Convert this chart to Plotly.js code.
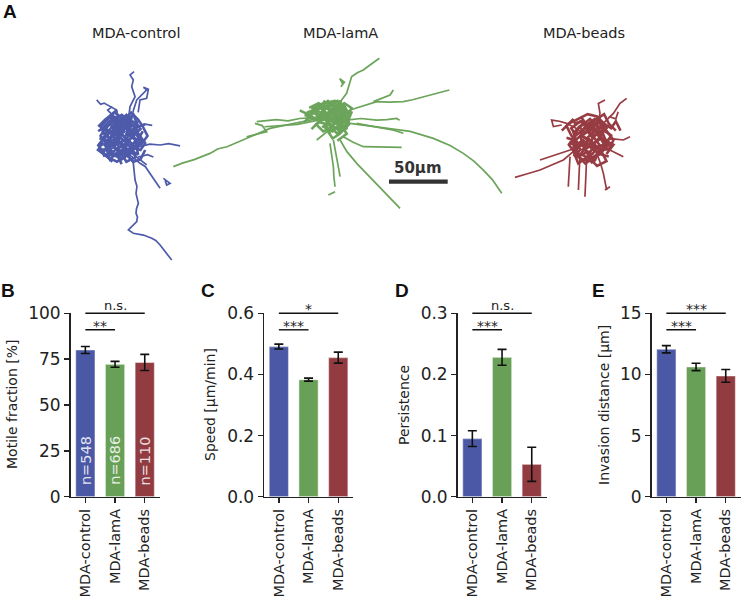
<!DOCTYPE html>
<html><head><meta charset="utf-8">
<script src="https://cdn.plot.ly/plotly-3.0.1.min.js"></script>
<style>html,body{margin:0;padding:0;background:#fff}#chart{width:744px;height:601px}</style>
</head><body><div id="chart"></div>
<script>
// ---------------- data ----------------
const conditions = ['MDA-control', 'MDA-lamA', 'MDA-beads'];
const nCells = [548, 686, 110];
const motileFraction = [80.0, 72.2, 73.2];
const motileFractionErr = [1.9, 1.6, 4.4];
const speed = [0.491, 0.383, 0.455];
const speedErr = [0.008, 0.005, 0.018];
const persistence = [0.095, 0.228, 0.053];
const persistenceErr = [0.013, 0.013, 0.028];
const invasion = [12.06, 10.61, 9.88];
const invasionErr = [0.30, 0.30, 0.52];
// significance labels: [short bracket (control vs lamA), long bracket (control vs beads)]
const sigMotile = ['**', 'n.s.'];
const sigSpeed = ['***', '*'];
const sigPersistence = ['***', 'n.s.'];
const sigInvasion = ['***', '***'];
const scaleBarLength = 50; // µm

// cell tracks in µm, relative to the common start point (long, outgoing tracks)
const tracksControl = [
  [[0,-5],[5,-12],[9.9,-21.3],[10.5,-28],[11.4,-35.5],[13,-41],[12.2,-46.9],[14.2,-55.4],[12.6,-60],[12.2,-63.9],[13.4,-67],[12.8,-71],[8.5,-75.3],[5.7,-78.1],[9.9,-80.9],[18.5,-82.4],[25.6,-85.2],[29,-87],[32.7,-90.9],[38.3,-98],[42.6,-103.7]],
  [[3,2],[5.7,9.9],[4,14],[6,18],[7.1,27],[9,31],[11.4,35.5],[8.5,44],[9.9,49.7],[7.1,54],[10.5,56.8]],
  [[8,14],[10,24],[12.8,32.7],[17,36.9],[21.3,41.2],[18.5,43.5],[22.7,41.7],[21.3,34.1],[15.6,32.7],[14,22]],
  [[-21.3,32.7],[-18,29],[-15,30],[-9.9,27],[-4.3,24.1],[-3,16],[-1.4,9.9]],
  [[2,-5],[15,-7],[24,-5],[32.7,-5.7],[40,-4.5],[49.7,-6.5]],
  [[5,-10],[13,-16],[21.3,-22.7]],
  [[8,-15],[15.6,-21.3],[20,-24],[24.1,-29.8],[28,-36],[32.7,-42.6]],
  [[-4,-8],[-12,-9],[-21.3,-9.9]],
  [[35.5,-34.1],[41.2,-38.3],[38.3,-39.8],[37,-36]],
  [[4,6],[14,10],[20,12],[26,11]],
  [[-6,18],[-12,24],[-8,27]],
  [[14,-16],[22,-14],[27,-16]]
];
// dense, tangled part of the tracks near the start point
const coreControl = [
  [[-15,2],[-8,10],[-2,4],[5,12],[10,3],[3,-6],[-6,-2],[-12,-10],[-4,-15],[6,-9],[14,-14],[12,-4],[18,6]],
  [[-18,-6],[-10,-3],[-14,8],[-6,16],[0,9],[8,18],[4,2],[12,10],[16,-2],[8,-12],[0,-18],[-8,-12],[-16,-15]],
  [[0,0],[-6,6],[-3,13],[4,20],[9,14],[2,8],[-4,-4],[-10,-7],[-18,2],[-12,12],[-20,6]],
  [[2,-2],[10,6],[15,0],[8,-6],[12,-16],[4,-20],[-2,-10],[-10,-18],[-14,-6],[-6,4],[2,-2]],
  [[-5,0],[-12,-4],[-8,-12],[0,-6],[6,-16],[10,-8],[16,-10],[20,-4],[14,4],[6,8],[-2,14],[-9,20],[-4,24]],
  [[3,5],[-4,10],[-11,4],[-16,-2],[-20,-10],[-12,-16],[-4,-20],[4,-14],[10,-20],[16,-18],[20,-10]],
  [[-1,-3],[7,-1],[12,8],[6,14],[-2,18],[-10,15],[-15,10],[-8,3],[-2,-8],[5,-4]],
  [[-20,10],[-14,16],[-6,22],[2,16],[8,22],[14,16],[18,10],[22,2],[16,-6]],
  [[-16,-12],[-10,-6],[-16,0],[-10,6],[-4,2],[-8,-6],[0,-12],[6,-4],[0,4],[-6,12],[0,16],[8,10],[14,14]],
  [[-12,14],[-6,8],[2,12],[6,4],[12,-2],[6,-10],[-2,-4],[-8,2],[-14,-4],[-10,-14],[-2,-16],[4,-10]],
  [[-19,0],[-12,-2],[-6,-6],[2,-2],[8,-8],[14,-6],[10,2],[16,8],[10,14],[2,10],[-4,18],[-12,18]],
  [[0,-22],[-4,-14],[2,-8],[-4,0],[2,6],[-2,12],[4,16],[10,20],[14,10],[20,12]],
  [[-8,-20],[-14,-14],[-20,-6],[-14,2],[-18,10],[-10,18],[-4,12],[4,8],[10,0],[18,-2],[12,-10]],
  [[6,16],[0,20],[-8,14],[-4,6],[4,0],[10,-6],[4,-14],[-4,-10],[-12,-2],[-6,6]]
];
const tracksLamA = [
  [[0,0],[-14,-3],[-27,-5.7],[-40,-8],[-48,-10],[-55.4,-11.4],[-66,-16],[-78.1,-21.3],[-92,-27],[-100,-29],[-106.5,-32.7],[-120,-38],[-130,-41],[-137.7,-44]],
  [[-66.7,-5.7],[-58,-5],[-50,-4],[-40,-5],[-30,-3],[-14,-2]],
  [[-68.2,-7.1],[-62,-9],[-58.2,-14.2],[-66,-16],[-75.3,-18.5]],
  [[-60,-10],[-46,-9],[-32,-8],[-12,-4]],
  [[0,7.1],[5,12],[9.9,18.5],[12,26],[14.2,32.7],[19,36],[24.1,38.3],[29.8,42.6],[33,45],[37.8,48.3]],
  [[5,24],[8,28],[4,31],[7,26]],
  [[12.8,4.3],[24,8],[35.5,11.4],[46,11],[58.2,11.4],[66,13],[75.3,15.6],[86,18],[97.4,21.3]],
  [[32.7,11.4],[40,14],[46.9,17],[49.7,21.3]],
  [[9.9,-4.3],[22,-3],[35.5,-4.3],[44,-4],[52.5,-2.8],[55,-4.5]],
  [[12.8,-7.1],[28,-9],[44,-11.4],[64,-14],[83.8,-19.9],[98,-26],[109.3,-32.7],[118,-39],[126.4,-46.9],[134,-55],[142,-66.7]],
  [[18.5,-7.1],[40,-11],[50,-13],[58.2,-15.6]],
  [[7.1,-18.5],[15,-23],[24.1,-27],[40,-27],[56.8,-27.5]],
  [[4.3,-21.3],[10,-31],[18.5,-41.2],[27,-50],[35.5,-58.2],[44,-67],[55.4,-79.5]],
  [[-1.4,-21.3],[0,-30],[1.4,-38.3],[3,-45],[4.3,-52.5]],
  [[-4.3,-24.1],[-3,-34],[-1.4,-44],[-1,-52],[0,-61.1]],
  [[-5.7,-68.2],[0,-65.3]],
  [[-4,-12],[-10,-17],[-15.6,-21.3]]
];
const coreLamA = [
  [[-20,2],[-12,6],[-6,-2],[2,8],[8,2],[4,-8],[-4,-4],[-10,-10],[-2,-14],[6,-6],[12,-2]],
  [[-24,-2],[-16,-4],[-10,4],[-2,10],[6,6],[10,-4],[2,-12],[-6,-8],[-14,-6],[-20,-12]],
  [[0,0],[6,10],[-2,6],[-8,0],[-4,-10],[4,-4],[10,4],[12,-8],[4,-16],[-2,-20],[-6,-14]],
  [[-12,8],[-4,4],[2,-2],[-6,-6],[-14,0],[-18,6],[-10,10],[0,12],[8,8],[12,0]],
  [[-30,4],[-22,0],[-16,6],[-8,8],[0,2],[-2,-6],[6,-10],[10,-16],[2,-22]],
  [[-4,2],[4,4],[8,-2],[2,-8],[-6,-2],[-10,6],[-4,10],[6,12]],
  [[-26,-6],[-18,2],[-10,-4],[-4,4],[2,-4],[8,4],[14,2],[10,-8],[2,-12],[-6,-6],[-12,2],[-20,6]],
  [[-22,6],[-14,10],[-6,6],[0,10],[6,2],[0,-6],[-8,-2],[-16,-8],[-10,-14],[-2,-10],[6,-14]],
  [[-16,-2],[-8,2],[-2,-4],[4,2],[10,-2],[14,6],[8,10],[0,6],[-6,12],[-14,6],[-24,2]],
  [[-4,-16],[-8,-8],[-2,-2],[4,-8],[10,-12],[8,0],[2,6],[-4,0],[-12,-4],[-18,-2],[-26,0]],
  [[-10,12],[-4,8],[2,12],[8,6],[4,-2],[-2,2],[-8,-2],[-4,-10],[2,-16],[8,-10]]
];
const tracksBeads = [
  [[0,0],[-12,-8],[-22.7,-17],[-32,-21],[-42.6,-25.6],[-54,-29],[-63.9,-31.8]],
  [[-8.5,-5.7],[-22,-10],[-34.1,-14.2],[-42.6,-17]],
  [[-17,-14.2],[-17.5,-27],[-18.5,-39.8]],
  [[-8.5,-11.4],[-9,-27],[-9.9,-42.6]],
  [[-2.8,-14.2],[-3.5,-30],[-4.3,-48.3]],
  [[5.7,-11.4],[9,-20],[11.4,-28.4],[13,-36],[14.2,-42.6]],
  [[-5.7,5.7],[-12,10],[-19.9,14.2],[-26,16],[-32.7,17],[-31.2,11.4],[-24.1,12.8]],
  [[5.7,8.5],[7,15],[8.5,22.7],[7.1,31.2],[12.8,34.1]],
  [[8.5,11.4],[14,17],[19.9,22.7],[25.6,31.2],[31.2,35.5]],
  [[11.4,0],[20,1],[28.4,0],[34.1,2.8]],
  [[11.4,-5.7],[20,-10],[28.4,-14.2]],
  [[12.8,-42.6],[17,-39.8]],
  [[16,20],[22,18],[24,24]]
];
const coreBeads = [
  [[-12,4],[-4,10],[2,2],[10,8],[14,-2],[6,-8],[-2,-4],[-8,-12],[0,-16],[8,-12],[16,-14]],
  [[-18,-2],[-10,-6],[-14,6],[-6,14],[2,10],[8,18],[12,8],[18,4],[12,-6],[4,-14],[-4,-20],[-10,-14]],
  [[0,0],[-8,4],[-4,12],[4,18],[10,12],[4,4],[-2,-6],[-10,-4],[-16,4],[-20,12],[-14,18]],
  [[2,-4],[10,2],[16,-4],[10,-10],[14,-18],[6,-22],[-2,-14],[-10,-20],[-14,-10],[-6,-2],[2,-4]],
  [[-6,0],[-14,-6],[-10,-14],[-2,-10],[4,-18],[8,-8],[16,-8],[20,0],[14,8],[6,6],[-2,12],[-8,20]],
  [[4,4],[-2,8],[-8,2],[-4,-8],[4,-2],[10,4],[6,12],[0,18],[-10,10],[-16,-4]],
  [[-24,8],[-18,14],[-10,18],[-2,22],[6,20],[12,14],[18,10],[22,16],[26,8]],
  [[-14,-14],[-8,-8],[-14,-2],[-8,4],[-2,0],[-6,-8],[2,-12],[8,-4],[2,4],[-4,10],[2,14],[10,10],[16,12]],
  [[-10,12],[-4,6],[4,10],[8,2],[14,-4],[8,-12],[0,-6],[-6,0],[-12,-6],[-8,-16],[0,-18],[6,-12]],
  [[-20,2],[-14,0],[-8,-4],[0,0],[6,-6],[12,-4],[8,4],[14,10],[8,16],[0,12],[-6,16],[-14,14]],
  [[2,-20],[-2,-12],[4,-6],[-2,2],[4,8],[0,14],[6,18],[12,22],[16,14],[22,8]],
  [[-6,-18],[-12,-12],[-18,-4],[-12,4],[-16,10],[-8,16],[-2,10],[6,6],[12,0],[20,-4],[14,-12]]
];

// ---------------- styling / layout ----------------
const W = 744, H = 601;
const FONT = 'DejaVu Sans, Liberation Sans, sans-serif';
const colors = ['#4b58a5', '#68a058', '#923c42'];
const trackColors = ['#4e5bab', '#6ba45a', '#983c43'];
const umToPx = 1.174;
const fx = p => p / W;
const fy = p => 1 - p / H;

function flatten(tracks) {
  const x = [], y = [];
  tracks.forEach(t => { t.forEach(p => { x.push(p[0]); y.push(p[1]); }); x.push(null); y.push(null); });
  return {x, y};
}

const trackPanels = [
  {cx: 121.7, cy: 138.3, x0: 40, x1: 204, data: tracksControl, core: coreControl},
  {cx: 335, cy: 115, x0: 170, x1: 515, data: tracksLamA, core: coreLamA},
  {cx: 590, cy: 140, x0: 505, x1: 690, data: tracksBeads, core: coreBeads}
];
const tY0 = 40, tY1 = 272;

const barPanels = [
  {vals: motileFraction, err: motileFractionErr, sig: sigMotile, x0: 70.5, title: 'Motile fraction [%]', tx: 12, letter: 'B', lx: 8, range: [0, 100], dtick: 25, fmt: 'd'},
  {vals: speed, err: speedErr, sig: sigSpeed, x0: 264, title: 'Speed [µm/min]', tx: 210, letter: 'C', lx: 208, range: [0, 0.6], dtick: 0.2, fmt: '.1f'},
  {vals: persistence, err: persistenceErr, sig: sigPersistence, x0: 457.5, title: 'Persistence', tx: 404, letter: 'D', lx: 402, range: [0, 0.3], dtick: 0.1, fmt: '.1f'},
  {vals: invasion, err: invasionErr, sig: sigInvasion, x0: 651.5, title: 'Invasion distance [µm]', tx: 604, letter: 'E', lx: 598, range: [0, 15], dtick: 5, fmt: 'd'}
];
const barW = 89.1, bY0 = 313.3, bY1 = 496.7;

const traces = [];
const layout = {
  width: W, height: H, margin: {l: 0, r: 0, t: 0, b: 0},
  paper_bgcolor: '#fff', plot_bgcolor: 'rgba(0,0,0,0)',
  showlegend: false, font: {family: FONT, color: '#222'},
  annotations: [], shapes: []
};

barPanels.forEach((p, i) => {
  const k = i + 1, xs = k === 1 ? '' : String(k);
  const xa = 'x' + xs, ya = 'y' + xs;
  traces.push({
    type: 'bar', x: conditions, y: p.vals, xaxis: xa, yaxis: ya, width: 0.65,
    marker: {color: colors, line: {color: 'rgba(255,255,255,0.45)', width: 1.2}},
    error_y: {type: 'data', array: p.err, visible: true, color: '#111', thickness: 1.6, width: 4.5},
    hoverinfo: 'none'
  });
  layout['xaxis' + xs] = {
    domain: [fx(p.x0), fx(p.x0 + barW)], anchor: ya, range: [-0.5, 2.5], type: 'category',
    showline: true, linecolor: '#222', linewidth: 1.4, ticks: 'outside', ticklen: 5, tickwidth: 1.4, tickcolor: '#222',
    tickangle: -90, tickfont: {family: FONT, size: 14.5, color: '#222'}, showgrid: false, zeroline: false, automargin: false, fixedrange: true
  };
  layout['yaxis' + xs] = {
    domain: [fy(bY1), fy(bY0)], anchor: xa, range: p.range, dtick: p.dtick, tick0: 0, tickformat: p.fmt,
    showline: true, linecolor: '#222', linewidth: 1.4, ticks: 'outside', ticklen: 5, tickwidth: 1.4, tickcolor: '#222',
    tickfont: {family: FONT, size: 17, color: '#222'}, showgrid: false, zeroline: false, automargin: false, fixedrange: true
  };
  const br = [{x1: 1, y: 0.91, t: p.sig[0]}, {x1: 2, y: 1.0, t: p.sig[1]}];
  br.forEach(b => {
    layout.shapes.push({type: 'line', xref: xa, yref: ya + ' domain', x0: 0, x1: b.x1, y0: b.y, y1: b.y, line: {color: '#111', width: 1.4}});
    const star = b.t.indexOf('*') >= 0;
    layout.annotations.push({xref: xa, yref: ya + ' domain', x: b.x1 / 2, y: b.y, text: b.t, showarrow: false,
      xanchor: 'center', yanchor: 'bottom', yshift: star ? -6 : -2, font: {family: FONT, size: star ? 14 : 13, color: '#222'}});
  });
  layout.annotations.push({xref: 'paper', yref: 'paper', x: fx(p.tx), y: fy((bY0 + bY1) / 2), text: p.title, textangle: -90,
    showarrow: false, xanchor: 'center', yanchor: 'middle', font: {family: FONT, size: 14, color: '#222'}});
  layout.annotations.push({xref: 'paper', yref: 'paper', x: fx(p.lx), y: fy(290), text: '<b>' + p.letter + '</b>',
    showarrow: false, xanchor: 'center', yanchor: 'middle', font: {family: 'Liberation Sans, Arial, sans-serif', size: 19, color: '#111'}});
  if (k === 1) {
    conditions.forEach((c, j) => {
      layout.annotations.push({xref: xa, yref: ya + ' domain', x: j, y: 0.196, text: 'n=' + nCells[j], textangle: -90,
        showarrow: false, xanchor: 'center', yanchor: 'middle', font: {family: FONT, size: 14.5, color: 'rgba(255,255,255,0.85)'}});
    });
  }
});

trackPanels.forEach((p, i) => {
  const k = i + 5, xs = String(k);
  const xa = 'x' + xs, ya = 'y' + xs;
  const c = flatten(p.core);
  traces.push({type: 'scatter', mode: 'lines', x: c.x, y: c.y, xaxis: xa, yaxis: ya,
    line: {color: trackColors[i], width: 2.6}, connectgaps: false, hoverinfo: 'none'});
  const f = flatten(p.data);
  traces.push({type: 'scatter', mode: 'lines', x: f.x, y: f.y, xaxis: xa, yaxis: ya,
    line: {color: trackColors[i], width: 1.7}, connectgaps: false, hoverinfo: 'none'});
  layout['xaxis' + xs] = {domain: [fx(p.x0), fx(p.x1)], anchor: ya, visible: false, fixedrange: true,
    range: [(p.x0 - p.cx) / umToPx, (p.x1 - p.cx) / umToPx]};
  layout['yaxis' + xs] = {domain: [fy(tY1), fy(tY0)], anchor: xa, visible: false, fixedrange: true,
    range: [-(tY1 - p.cy) / umToPx, (p.cy - tY0) / umToPx]};
});

const titleX = [136, 340, 584];
conditions.forEach((c, i) => {
  layout.annotations.push({xref: 'paper', yref: 'paper', x: fx(titleX[i]), y: fy(33), text: c, showarrow: false,
    xanchor: 'center', yanchor: 'middle', font: {family: FONT, size: 14.5, color: '#222'}});
});
layout.annotations.push({xref: 'paper', yref: 'paper', x: fx(10), y: fy(12), text: '<b>A</b>', showarrow: false,
  xanchor: 'center', yanchor: 'middle', font: {family: 'Liberation Sans, Arial, sans-serif', size: 19, color: '#111'}});

const sbX0 = 46, sbY = -56.8;
layout.shapes.push({type: 'line', xref: 'x6', yref: 'y6', x0: sbX0, x1: sbX0 + scaleBarLength, y0: sbY, y1: sbY,
  line: {color: '#333', width: 4.3}});
layout.annotations.push({xref: 'x6', yref: 'y6', x: sbX0 + scaleBarLength / 2, y: sbY, yshift: 14, text: '<b>' + scaleBarLength + 'µm</b>',
  showarrow: false, xanchor: 'center', yanchor: 'middle', font: {family: FONT, size: 15, color: '#333'}});

Plotly.newPlot('chart', traces, layout, {staticPlot: true, displayModeBar: false});
</script></body></html>
